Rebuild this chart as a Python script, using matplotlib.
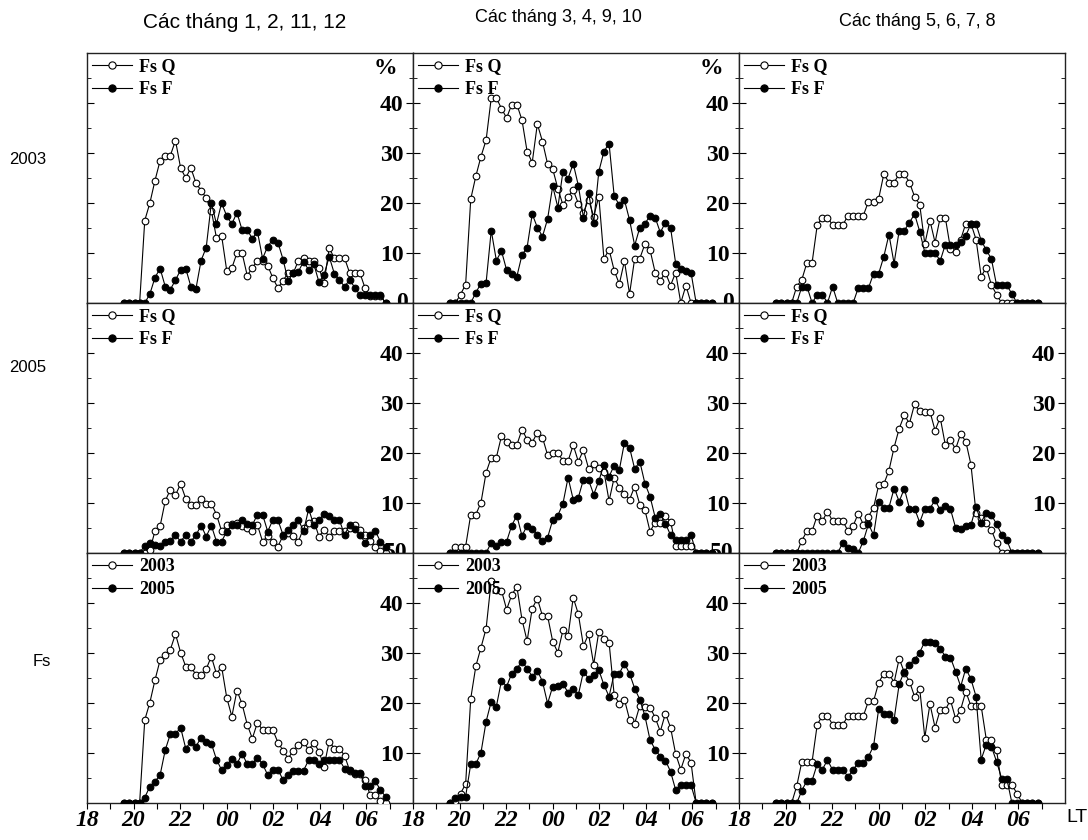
import numpy as np
import matplotlib.pyplot as plt
from matplotlib.lines import Line2D

# sampling of the night-time curves (local time, hours after 18 LT run past 24)
T0 = 19.6
STEP = 0.22

# ---- 2003, months 1, 2, 11, 12 ----
fsq_2003_g1 = [0, 0, 0, 0, 16.5, 20, 24.5, 28.5, 29.5, 29.5, 32.5, 27, 25, 27, 24, 22.5, 21, 18.5, 13, 13.5,
               6.5, 7, 10, 10, 5.5, 7, 8.5, 8.5, 7.5, 5, 3, 4.5, 6, 6, 8.5, 9, 8.5, 8.5, 7, 4,
               11, 9, 9, 9, 6, 6, 6, 3, 1.5, 1.5, 1.5, 0]
fsf_2003_g1 = [0, 0, 0, 0, 0, 1.8, 5.1, 6.9, 3.3, 2.7, 4.6, 6.6, 6.9, 3.3, 2.9, 8.5, 11.1, 20, 15.8, 20,
               17.4, 15.8, 18.1, 14.6, 14.6, 12.9, 14.3, 8.9, 11.3, 12.7, 12.1, 8.7, 4.4, 6.1, 6.3, 8.3, 6.6, 7.8, 4.2, 5.6,
               9.3, 5.9, 4.6, 3.3, 4.6, 3.1, 1.6, 1.6, 1.6, 1.6, 1.6, 0]
# ---- 2003, months 3, 4, 9, 10 ----
fsq_2003_g2 = [0, 0, 1.7, 3.7, 20.8, 25.4, 29.3, 32.6, 41, 41, 38.9, 37, 39.7, 39.7, 36.6, 30.3, 28.1, 35.8, 32.3, 27.8,
               26.8, 22.9, 19.6, 21.3, 22.6, 19.9, 18.1, 20.7, 17.3, 21.3, 8.8, 10.7, 6.5, 3.8, 8.4, 1.8, 8.9, 8.9, 11.8, 10.6,
               6.1, 4.5, 6.1, 3.5, 6.1, 0, 3.5, 0, 0, 0, 0, 0]
fsf_2003_g2 = [0, 0, 0, 0, 0, 2.1, 3.9, 4.1, 14.5, 8.5, 10.4, 6.6, 5.8, 5.3, 9.6, 11.1, 17.8, 15.1, 13.3, 16.8,
               23.4, 19.1, 26.3, 24.9, 27.9, 23.5, 17.1, 22.1, 16.1, 26.3, 30.3, 31.9, 21.4, 19.6, 20.6, 16.6, 11.5, 15.1, 15.9, 17.4,
               17.1, 14.1, 16.1, 15.1, 7.9, 6.9, 6.4, 6.1, 0, 0, 0, 0]
# ---- 2003, months 5, 6, 7, 8 ----
fsq_2003_g3 = [0, 0, 0, 0, 3.3, 4.7, 8.1, 8.1, 15.6, 17.1, 17.1, 15.6, 15.6, 15.6, 17.5, 17.5, 17.5, 17.5, 20.3, 20.3,
               20.9, 25.8, 24.1, 24.1, 25.8, 25.8, 24.1, 21.3, 19.7, 11.8, 16.5, 12.1, 17.1, 17.1, 10.9, 10.3, 12.7, 15.9, 15.9, 12.7,
               5.3, 7.1, 3.6, 1.7, 0, 0, 0, 0, 0, 0, 0, 0]
fsf_2003_g3 = [0, 0, 0, 0, 0, 3.3, 3.3, 0, 1.7, 1.7, 0, 3.3, 0, 0, 0, 0, 3, 3, 3, 5.9,
               5.9, 9.3, 13.7, 7.9, 14.5, 14.5, 16.1, 17.8, 14.3, 10.1, 10.1, 10.1, 8.4, 11.7, 11.7, 11.7, 12.3, 13.5, 15.8, 15.8,
               12.5, 10.6, 8.8, 3.6, 3.6, 3.6, 1.8, 0, 0, 0, 0, 0]

# ---- 2005 ----
fsq_2005_g1 = [0, 0, 0, 0, 0, 0.6, 4.4, 5.4, 10.4, 12.7, 11.6, 13.8, 10.9, 9.7, 9.7, 10.9, 9.9, 9.9, 7.7, 4.4,
               5.6, 5.8, 6, 5.5, 5, 4.4, 5.6, 2.3, 3.4, 2.3, 1.3, 3.5, 4, 3.4, 2.3, 5, 6, 6.5, 3.3, 4.6,
               3.3, 4.4, 4.4, 4.5, 5, 5.6, 4.6, 3.6, 2.5, 1.3, 0.5, 0]
fsf_2005_g1 = [0, 0, 0, 0, 1.5, 2.1, 1.6, 1.5, 2.3, 2.5, 3.6, 2.3, 3.6, 2.3, 3.6, 5.5, 3.3, 5.5, 2.3, 2.3,
               4.3, 5.6, 5.6, 6.6, 5.9, 5.6, 7.7, 7.7, 4.3, 6.6, 6.6, 3.6, 4.6, 5.6, 6.6, 4.4, 8.8, 5.6, 6.6, 7.8,
               7.5, 6.6, 6.6, 3.6, 5.6, 4.8, 3.6, 2.1, 3.6, 4.4, 2.3, 1.3]
fsq_2005_g2 = [0, 1.3, 1.3, 1.3, 7.7, 7.7, 10.1, 16.1, 19.1, 19.1, 23.4, 22.3, 21.6, 21.6, 24.7, 22.7, 22.1, 24.1, 23.1, 19.6,
               20.1, 20.1, 18.4, 18.4, 21.6, 18.3, 20.6, 16.9, 17.9, 17.1, 16.3, 10.4, 15.1, 13.1, 11.9, 10.7, 13.3, 9.7, 8.6, 4.3,
               6.1, 6.1, 7.4, 6.3, 1.5, 1.5, 1.5, 1.5, 0, 0, 0, 0]
fsf_2005_g2 = [0, 0, 0, 0, 0, 0, 0, 0, 2.1, 1.5, 2.3, 2.3, 5.5, 7.5, 3.4, 5.5, 4.9, 3.7, 2.4, 3.1,
               6.6, 7.5, 9.9, 15.1, 10.7, 11.1, 14.7, 14.6, 11.7, 14.4, 17.7, 15.3, 17.5, 16.6, 22.1, 21.1, 16.8, 18.3, 13.9, 11.3,
               7.1, 7.9, 5.9, 3.6, 2.6, 2.6, 2.6, 3.6, 0, 0, 0, 0]
fsq_2005_g3 = [0, 0, 0, 0, 0, 2.5, 4.4, 4.4, 7.5, 6.4, 8.3, 6.4, 6.4, 6.4, 4.4, 5.4, 7.9, 5.7, 7.3, 9.1,
               13.6, 13.8, 16.5, 21.1, 24.9, 27.6, 25.9, 29.8, 28.4, 28.3, 28.3, 24.5, 27.1, 21.6, 22.6, 20.8, 23.8, 22.3, 17.7, 8,
               7, 6, 4.6, 2, 0, 0, 0, 0, 0, 0, 0, 0]
fsf_2005_g3 = [0, 0, 0, 0, 0, 0, 0, 0, 0, 0, 0, 0, 0, 2.1, 1.1, 0.9, 0, 2.4, 5.8, 3.6,
               10.3, 9.1, 9.1, 12.9, 10.3, 12.9, 8.9, 8.9, 6.1, 8.9, 8.9, 10.6, 8.6, 9.5, 8.8, 5.1, 4.8, 5.5, 5.6, 9.3,
               6.1, 8.1, 7.6, 5.8, 3.7, 2.6, 0, 0, 0, 0, 0, 0]

# ---- Fs, 2003 vs 2005 ----
fs_2003_g1 = [0, 0, 0, 0, 16.6, 20.1, 24.6, 28.6, 29.6, 30.7, 33.8, 30.1, 27.3, 27.3, 25.6, 25.6, 26.8, 29.3, 25.8, 27.3,
              21.1, 17.3, 22.5, 19.8, 15.7, 12.9, 16.1, 14.6, 14.6, 14.6, 12.1, 10.5, 8.9, 10.5, 11.6, 12.3, 10.6, 12.1, 10.3, 7.3,
              12.3, 10.9, 10.9, 9.5, 6.5, 5.9, 5.9, 4.6, 1.6, 1.6, 0.5, 0]
fs_2005_g1 = [0, 0, 0, 0, 1.1, 3.3, 4.3, 5.6, 10.6, 13.8, 13.8, 15.1, 10.9, 12.3, 11.3, 13.1, 12.3, 11.9, 8.7, 6.6,
              7.6, 8.8, 7.8, 9.9, 7.8, 7.8, 9.1, 7.8, 5.6, 6.7, 6.7, 4.6, 5.6, 6.5, 6.5, 6.5, 8.6, 8.6, 7.8, 8.6,
              8.6, 8.6, 8.6, 6.9, 6.6, 6.1, 6.1, 3.4, 3.4, 4.4, 2.6, 1.3]
fs_2003_g2 = [0, 0.5, 1.9, 3.8, 20.9, 27.4, 31.1, 34.9, 44.5, 42.7, 42.5, 38.7, 41.6, 43.3, 36.7, 32.4, 38.9, 40.9, 37.4, 37.4,
              32.3, 30.1, 34.6, 33.4, 41.1, 37.8, 31.4, 33.8, 27.7, 34.3, 32.8, 32.1, 21.6, 19.8, 20.7, 16.7, 15.9, 19.5, 19.3, 19.1,
              17.1, 14.3, 17.9, 15.1, 9.8, 6.7, 9.8, 8.1, 0, 0, 0, 0]
fs_2005_g2 = [0, 1.1, 1.3, 1.3, 7.8, 7.8, 10.1, 16.3, 20.3, 19.3, 24.5, 23.3, 25.9, 26.9, 28.3, 26.9, 25.3, 26.5, 24.3, 19.9,
              23.3, 23.4, 23.8, 22.1, 22.9, 21.6, 26.3, 24.9, 25.6, 26.6, 23.6, 21.3, 25.9, 25.9, 27.9, 25.9, 22.9, 20.7, 17.4, 12.6,
              10.7, 9.3, 8.5, 6.3, 2.6, 3.6, 3.6, 3.6, 0, 0, 0, 0]
fs_2003_g3 = [0, 0, 0, 0, 3.4, 8.3, 8.3, 8.3, 15.7, 17.4, 17.4, 15.7, 15.7, 15.7, 17.4, 17.4, 17.4, 17.4, 20.4, 20.4,
              24.1, 25.9, 25.9, 24.1, 28.9, 26.1, 24.3, 21.3, 22.9, 13.1, 19.8, 15.1, 18.6, 18.6, 20.6, 16.9, 18.7, 22.3, 19.4, 19.4,
              19.4, 12.7, 12.6, 10.6, 3.6, 3.6, 3.6, 1.9, 0, 0, 0, 0]
fs_2005_g3 = [0, 0, 0, 0, 0, 2.5, 4.5, 4.5, 7.8, 6.7, 8.6, 6.6, 6.6, 6.6, 5.3, 6.6, 8.1, 8.1, 9.3, 11.4,
              18.9, 17.9, 17.8, 16.7, 23.8, 26.3, 27.7, 28.7, 30.1, 32.3, 32.3, 32.1, 30.9, 29.3, 29.1, 26.3, 23.3, 26.9, 24.8, 21.3,
              8.7, 11.7, 11.3, 8.3, 4.9, 4.9, 0, 0, 0, 0, 0, 0]

col_titles = ['Các tháng 1, 2, 11, 12', 'Các tháng 3, 4, 9, 10', 'Các tháng 5, 6, 7, 8']
row_labels = ['2003', '2005', 'Fs']
legend_labels = [['Fs Q', 'Fs F'], ['Fs Q', 'Fs F'], ['2003', '2005']]
hour_labels = ['18', '20', '22', '00', '02', '04', '06']

panels = [
    [(fsq_2003_g1, fsf_2003_g1), (fsq_2003_g2, fsf_2003_g2), (fsq_2003_g3, fsf_2003_g3)],
    [(fsq_2005_g1, fsf_2005_g1), (fsq_2005_g2, fsf_2005_g2), (fsq_2005_g3, fsf_2005_g3)],
    [(fs_2003_g1, fs_2005_g1), (fs_2003_g2, fs_2005_g2), (fs_2003_g3, fs_2005_g3)],
]

W, H = 1088, 840
SERIF = 'Liberation Serif'
SANS = 'Liberation Sans'

fig = plt.figure(figsize=(W / 100, H / 100), dpi=100)

x_left, y_top, pw, ph = 87, 53, 326, 250

for r in range(3):
    for c in range(3):
        ax = fig.add_axes([(x_left + c * pw) / W, 1 - (y_top + (r + 1) * ph) / H, pw / W, ph / H])
        open_vals, full_vals = panels[r][c]
        t_open = T0 + STEP * np.arange(len(open_vals))
        t_full = T0 + STEP * np.arange(len(full_vals))
        ax.plot(t_open, open_vals, '-', color='k', lw=0.8, marker='o', ms=4.8,
                mfc='white', mec='k', mew=0.8, zorder=3)
        ax.plot(t_full, full_vals, '-', color='k', lw=0.8, marker='o', ms=4.8,
                mfc='k', mec='k', mew=0.8, zorder=4)
        ax.set_xlim(18, 32)
        ax.set_ylim(0, 50)
        for s in ax.spines.values():
            s.set_linewidth(1.0)
            s.set_color('#222222')

        # y axis: ticks on both spines pointing in, labels inside on the right
        ax.set_yticks([10, 20, 30, 40])
        ax.set_yticks([5, 15, 25, 35, 45], minor=True)
        show_y = not (c == 2 and r != 1)
        ax.tick_params(axis='y', which='both', direction='in', left=True, right=True,
                       labelleft=False, labelright=show_y, pad=-7)
        ax.tick_params(axis='y', which='major', length=5)
        ax.tick_params(axis='y', which='minor', length=3)
        for lbl in ax.get_yticklabels():
            lbl.set_horizontalalignment('right')
            lbl.set_fontfamily(SERIF)
            lbl.set_fontweight('bold')
            lbl.set_fontsize(17)

        # x axis
        if r == 2:
            hours = np.arange(18, 32)
            ax.set_xticks(hours)
            ax.set_xticklabels([hour_labels[(h - 18) // 2] if h % 2 == 0 else '' for h in hours],
                               fontfamily=SERIF, fontweight='bold', fontstyle='italic', fontsize=17)
            ax.tick_params(axis='x', direction='out', length=4, pad=1)
        else:
            ax.set_xticks(np.linspace(18, 32, 9))
            ax.tick_params(axis='x', direction='out', length=3, labelbottom=False)

        num_font = dict(fontfamily=SERIF, fontweight='bold', fontsize=17)
        if r == 0 and c < 2:
            ax.annotate('%', xy=(1, 47), xycoords=('axes fraction', 'data'), xytext=(-11, 0),
                        textcoords='offset points', ha='right', va='center', **num_font)
            ax.annotate('0', xy=(1, 0), xycoords=('axes fraction', 'data'), xytext=(-4, 0),
                        textcoords='offset points', ha='right', va='center', **num_font)
        if r == 1 and c < 2:
            ax.annotate('50', xy=(1, 0), xycoords=('axes fraction', 'data'), xytext=(-4, 0),
                        textcoords='offset points', ha='right', va='center', **num_font)

        handles = [Line2D([], [], color='k', lw=0.8, marker='o', ms=5.2, mfc='white', mec='k', mew=0.8),
                   Line2D([], [], color='k', lw=0.8, marker='o', ms=5.2, mfc='k', mec='k', mew=0.8)]
        ax.legend(handles, legend_labels[r], loc='upper left', bbox_to_anchor=(0, 1), frameon=False,
                  borderaxespad=0, borderpad=0.3, handlelength=2.2, handletextpad=0.4,
                  labelspacing=0.3, prop=dict(family=SERIF, weight='bold', size=13))

fig.text(245 / W, 1 - 22 / H, col_titles[0], ha='center', va='center', fontsize=15, fontfamily=SANS)
fig.text(558 / W, 1 - 17 / H, col_titles[1], ha='center', va='center', fontsize=13, fontfamily=SANS)
fig.text(917 / W, 1 - 22 / H, col_titles[2], ha='center', va='center', fontsize=13, fontfamily=SANS)

for lbl, (x, y) in zip(row_labels, [(28, 160), (28, 368), (42, 662)]):
    fig.text(x / W, 1 - y / H, lbl, ha='center', va='center', fontsize=12, fontfamily=SANS)

fig.text(1066 / W, 1 - 818 / H, 'LT', ha='left', va='center', fontsize=14, fontfamily=SANS)

fig.savefig('out.png', dpi=100)
